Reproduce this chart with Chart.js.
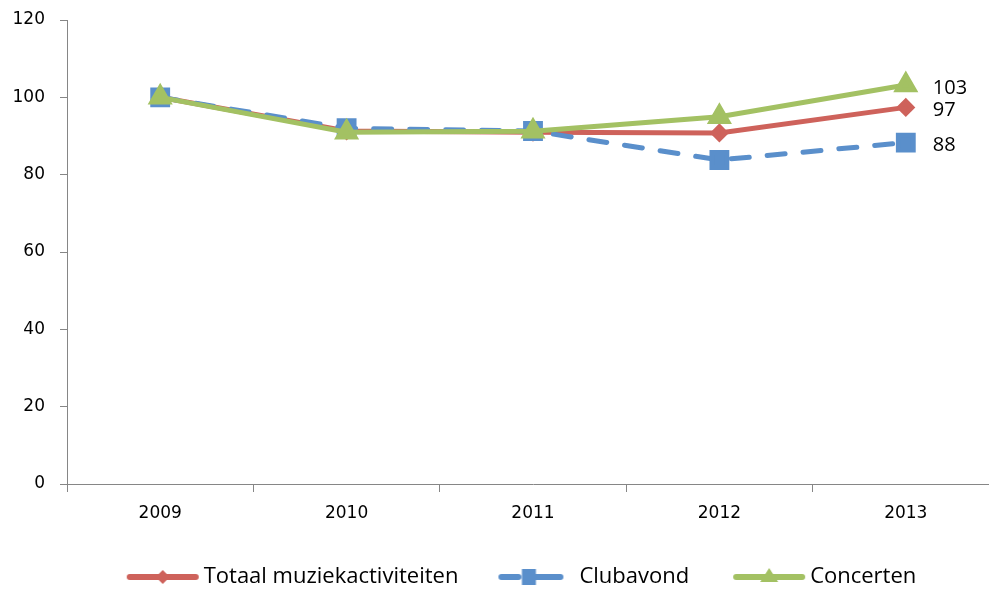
<!DOCTYPE html>
<html>
<head>
<meta charset="utf-8">
<script src="https://cdn.jsdelivr.net/npm/chart.js@4/dist/chart.umd.min.js"></script>
<style>
  html, body { margin: 0; padding: 0; overflow: hidden; background: #fff; }
  #chart { position: absolute; left: 0; top: 0; }
</style>
</head>
<body>
<canvas id="chart" width="1000" height="598"></canvas>
<script>
// --- data ---
const years = ["2009", "2010", "2011", "2012", "2013"];
const totaalValues = [100, 91.3, 91.0, 90.8, 97.4];
const clubValues = [100, 92.0, 91.3, 83.8, 88.3];
const concertValues = [100, 91.0, 91.2, 95.0, 103.2];
const seriesNames = ["Totaal muziekactiviteiten", "Clubavond", "Concerten"];
const yTicks = [0, 20, 40, 60, 80, 100, 120];

const RED = "#CE625B";
const BLUE = "#5A8FCB";
const GREEN = "#A3C163";
const AXIS = "#868686";

const tickFont = { family: "'DejaVu Sans', sans-serif", size: 17 };
const textFamily = "'Open Sans', 'Noto Sans', sans-serif";

// legend swatch: line + marker like the Excel legend.
// the picture is wider than the legend box so the transparent left part acts as spacing
function makeSwatch(color, shape, x0, x1) {
  const c = document.createElement("canvas");
  c.width = 116;
  c.height = 26;
  const g = c.getContext("2d");
  const mid = (x0 + x1) / 2;
  g.strokeStyle = color;
  g.fillStyle = color;
  g.lineWidth = 6;
  g.lineCap = "round";
  g.beginPath();
  if (shape === "square") {
    // short dash, gap, then marker with line
    g.moveTo(x0 + 3, 13); g.lineTo(x0 + 20, 13);
    g.moveTo(mid - 4, 13); g.lineTo(x1 - 3, 13);
  } else {
    g.moveTo(x0 + 3, 13); g.lineTo(x1 - 3, 13);
  }
  g.stroke();
  g.beginPath();
  if (shape === "diamond") {
    g.moveTo(mid, 6); g.lineTo(mid + 7, 13); g.lineTo(mid, 20); g.lineTo(mid - 7, 13);
  } else if (shape === "square") {
    g.rect(mid - 9, 5, 14, 16);
  } else {
    g.moveTo(mid, 4); g.lineTo(mid + 9, 18); g.lineTo(mid - 9, 18);
  }
  g.closePath();
  g.fill();
  return c;
}

const swatches = [
  makeSwatch(RED, "diamond", 42, 114),
  makeSwatch(BLUE, "square", 38, 103),
  makeSwatch(GREEN, "triangle", 42, 114),
];

// value labels at the last point of each line
const endLabels = {
  id: "endLabels",
  afterDatasetsDraw(chart) {
    const g = chart.ctx;
    g.save();
    g.font = "20px " + textFamily;
    g.fillStyle = "#000";
    g.textAlign = "left";
    g.textBaseline = "middle";
    chart.data.datasets.forEach((ds, i) => {
      const meta = chart.getDatasetMeta(i);
      const pt = meta.data[meta.data.length - 1];
      const v = ds.data[ds.data.length - 1];
      g.fillText(String(Math.round(v)), pt.x + 27, pt.y + 3);
    });
    g.restore();
  },
};

const ctx = document.getElementById("chart").getContext("2d");
new Chart(ctx, {
  type: "line",
  data: {
    labels: years,
    datasets: [
      {
        label: seriesNames[0],
        data: totaalValues,
        borderColor: RED,
        backgroundColor: RED,
        borderWidth: 5,
        pointStyle: "rectRot",
        pointRadius: 6,
        pointBackgroundColor: RED,
        pointBorderColor: RED,
        order: 3,
      },
      {
        label: seriesNames[1],
        data: clubValues,
        borderColor: BLUE,
        backgroundColor: BLUE,
        borderWidth: 5,
        borderDash: [18, 18],
        borderCapStyle: "round",
        pointStyle: "rect",
        pointRadius: 10.5,
        pointBackgroundColor: BLUE,
        pointBorderColor: BLUE,
        order: 2,
      },
      {
        label: seriesNames[2],
        data: concertValues,
        borderColor: GREEN,
        backgroundColor: GREEN,
        borderWidth: 5,
        pointStyle: "triangle",
        pointRadius: 9.5,
        pointBackgroundColor: GREEN,
        pointBorderColor: GREEN,
        order: 1,
      },
    ],
  },
  options: {
    responsive: false,
    animation: false,
    layout: { autoPadding: false, padding: { top: 20, right: 1, left: 10, bottom: 0 } },
    scales: {
      x: {
        offset: true,
        grid: { offset: true, drawOnChartArea: false, tickLength: 8, color: AXIS },
        border: { color: AXIS },
        ticks: { font: tickFont, color: "#000", padding: 11, maxRotation: 0 },
        afterFit(scale) {
          scale.height = 72;
          scale.paddingLeft = 0;
          scale.paddingRight = 0;
        },
      },
      y: {
        min: yTicks[0],
        max: yTicks[yTicks.length - 1],
        ticks: { stepSize: yTicks[1] - yTicks[0], font: tickFont, color: "#000", padding: 15 },
        grid: { drawOnChartArea: false, tickLength: 7, color: AXIS },
        border: { color: AXIS },
        afterFit(scale) {
          scale.width = 57;
          scale.paddingTop = 0;
          scale.paddingBottom = 0;
        },
      },
    },
    plugins: {
      tooltip: { enabled: false },
      legend: {
        position: "bottom",
        labels: {
          usePointStyle: true,
          pointStyleWidth: 100,
          padding: 10,
          color: "#000",
          font: { family: textFamily, size: 22 },
          generateLabels(chart) {
            return chart.data.datasets.map((ds, i) => ({
              text: ds.label,
              pointStyle: swatches[i],
              fillStyle: ds.borderColor,
              strokeStyle: ds.borderColor,
              lineWidth: 0,
              hidden: false,
              datasetIndex: i,
            }));
          },
        },
      },
    },
  },
  plugins: [endLabels],
});
</script>
</body>
</html>
